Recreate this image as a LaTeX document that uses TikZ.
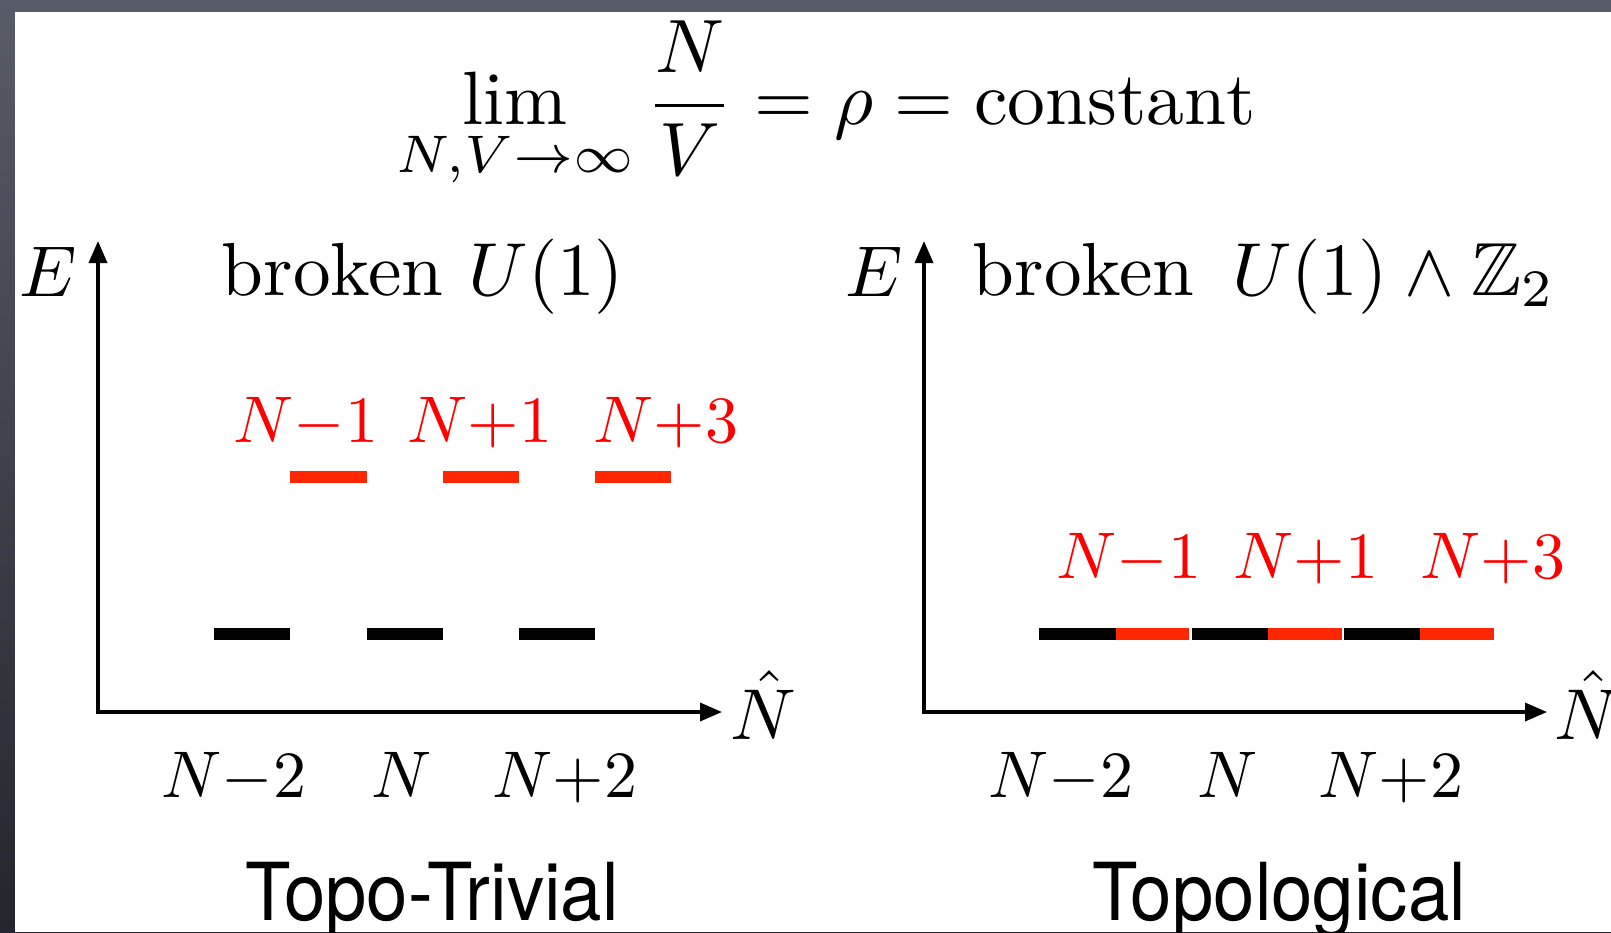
\documentclass[tikz,border=0pt]{standalone}
\usepackage{amssymb}
\usepackage{fontspec}
\newfontfamily\herosfont{TeX Gyre Heros}
\usetikzlibrary{arrows.meta}
\definecolor{barred}{RGB}{255,38,0}
\definecolor{frameA}{RGB}{88,91,104}
\definecolor{frameB}{RGB}{36,38,46}
\tikzset{
  axisline/.style={line width=1.75pt, line join=miter, {Triangle[length=11pt,width=9pt]}-{Triangle[length=11pt,width=9pt]}},
  lvl/.style={line width=6pt},
  lvlblack/.style={lvl, black},
  lvlred/.style={lvl, barred},
  bigtext/.style={font=\fontsize{10}{12}\selectfont, inner sep=0pt, anchor=base, scale=3.6, transform shape},
  headtext/.style={bigtext, scale=3.76/3.6},
  titletext/.style={bigtext, scale=3.78/3.6},
  ticklab/.style={font=\fontsize{10}{12}\selectfont, inner sep=0pt, anchor=base, scale=3.3, transform shape},
  redlab/.style={ticklab, text=red},
  sanslab/.style={font=\herosfont\fontsize{10}{12}\selectfont, inner sep=0pt, anchor=base, xscale=3.72, yscale=4.0, transform shape},
}
\begin{document}
\begin{tikzpicture}[x=0.5pt,y=-0.5pt]
\useasboundingbox (0,0) rectangle (1611,932);
\shade[top color=frameA, bottom color=frameB] (0,0) rectangle (1611,932);
\fill[white] (15,12) rectangle (1611,932);

% title
\node[titletext] (title) at (826,124) {$\displaystyle\lim_{N,V\to\infty}\frac{N}{V}=\rho=\mathrm{constant}$};

% left panel
\coordinate (O1) at (98,712);
\coordinate (Y1) at (98,241);
\coordinate (X1) at (722,712);
\draw[axisline] (Y1) -- (O1) -- (X1);
\node[bigtext] (E1) at (48,296) {$E$};
\node[bigtext, anchor=base west] (NH1) at (729,739) {$\hat N$};
\node[headtext] (B1) at (423,295) {broken $U(1)$};

\draw[lvlblack] (214,634) -- (290,634);
\draw[lvlblack] (367,634) -- (443,634);
\draw[lvlblack] (519,634) -- (595,634);
\draw[lvlred] (290,477) -- (367,477);
\draw[lvlred] (443,477) -- (519,477);
\draw[lvlred] (595,477) -- (671,477);

\node[redlab] (L1a) at (306,442) {$N{-}1$};
\node[redlab] (L1b) at (480,442) {$N{+}1$};
\node[redlab] (L1c) at (666,442) {$N{+}3$};

\node[ticklab] (T1a) at (234,797) {$N{-}2$};
\node[ticklab] (T1b) at (402,797) {$N$};
\node[ticklab] (T1c) at (565,797) {$N{+}2$};

\node[sanslab] (S1) at (432,920) {Topo-Trivial};

% right panel
\coordinate (O2) at (924,712);
\coordinate (Y2) at (924,241);
\coordinate (X2) at (1547,712);
\draw[axisline] (Y2) -- (O2) -- (X2);
\node[bigtext] (E2) at (874,296) {$E$};
\node[bigtext, anchor=base west] (NH2) at (1553,739) {$\hat N$};
\node[headtext] (B2) at (1264,295) {broken\ \,$U(1)\wedge\mathbb{Z}_2$};

\draw[lvlblack] (1039,634) -- (1116,634);
\draw[lvlred] (1116,634) -- (1189,634);
\draw[lvlblack] (1192,634) -- (1268,634);
\draw[lvlred] (1268,634) -- (1342,634);
\draw[lvlblack] (1344,634) -- (1420,634);
\draw[lvlred] (1420,634) -- (1494,634);

\node[redlab] (L2a) at (1129,578) {$N{-}1$};
\node[redlab] (L2b) at (1306,578) {$N{+}1$};
\node[redlab] (L2c) at (1493,578) {$N{+}3$};

\node[ticklab] (T2a) at (1061,797) {$N{-}2$};
\node[ticklab] (T2b) at (1228,797) {$N$};
\node[ticklab] (T2c) at (1391,797) {$N{+}2$};

\node[sanslab] (S2) at (1279,920) {Topological};
\end{tikzpicture}
\end{document}
